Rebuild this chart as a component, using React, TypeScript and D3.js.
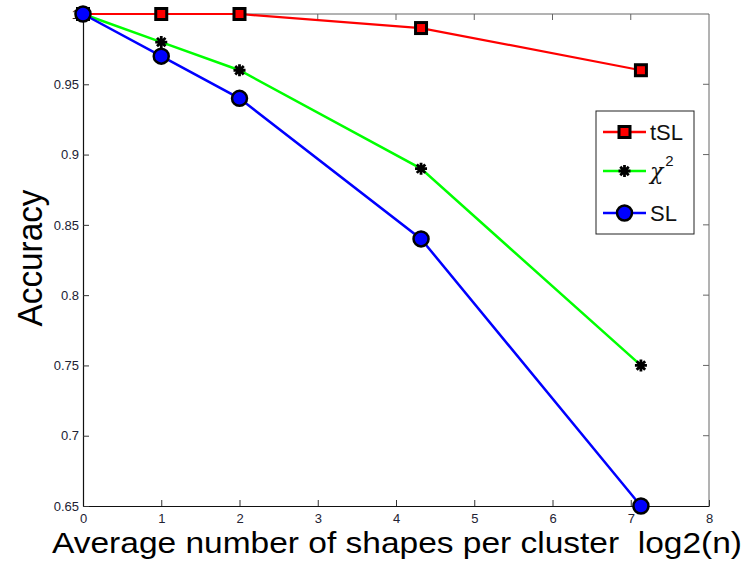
import React, { useEffect, useRef } from 'react';
import * as d3 from 'd3';

const xValues = [0, 1, 2, 4.32, 7.13];
const tslValues = [1, 1, 1, 0.99, 0.96];
const chiValues = [1, 0.98, 0.96, 0.89, 0.75];
const slValues = [1, 0.97, 0.94, 0.84, 0.65];
const xTicks = [0, 1, 2, 3, 4, 5, 6, 7, 8];
const yTicks = [0.65, 0.7, 0.75, 0.8, 0.85, 0.9, 0.95, 1];

const seriesList = [
  { name: 'tSL', values: tslValues, color: '#ff0000', marker: 'square', width: 2.2 },
  { name: 'chi', values: chiValues, color: '#00ff00', marker: 'star', width: 2.5 },
  { name: 'SL', values: slValues, color: '#0000ff', marker: 'circle', width: 2.5 },
];

const font = 'Liberation Sans, Arial, sans-serif';

const App = () => {
  const ref = useRef<SVGSVGElement>(null);

  useEffect(() => {
    const svg = d3.select(ref.current);
    svg.selectAll('*').remove();

    const left = 83, right = 709, top = 14, bottom = 506;
    const x = d3.scaleLinear().domain([0, 8]).range([left, right]);
    const y = d3.scaleLinear().domain([0.65, 1]).range([bottom, top]);

    // axes box
    svg.append('line').attr('x1', left).attr('x2', right).attr('y1', top).attr('y2', top)
      .attr('stroke', '#666').attr('stroke-width', 1);
    svg.append('line').attr('x1', right).attr('x2', right).attr('y1', top).attr('y2', bottom)
      .attr('stroke', '#666').attr('stroke-width', 1);

    const tickSize = 6;
    const gx = svg.append('g').attr('transform', `translate(0,${bottom})`)
      .call(d3.axisBottom(x).tickValues(xTicks).tickSizeInner(-tickSize).tickSizeOuter(0).tickPadding(8).tickFormat(d3.format('d')));
    gx.select('.domain').attr('stroke', '#111').attr('stroke-width', 1.2);
    gx.selectAll('.tick line').attr('stroke', '#333');
    gx.selectAll('text').attr('font-family', font).attr('font-size', 13).attr('fill', '#223');

    // top ticks
    svg.append('g').selectAll('line').data(xTicks.slice(1, -1)).join('line')
      .attr('x1', d => x(d)).attr('x2', d => x(d)).attr('y1', top).attr('y2', top + tickSize)
      .attr('stroke', '#666');

    const gy = svg.append('g').attr('transform', `translate(${left},0)`)
      .call(d3.axisLeft(y).tickValues(yTicks).tickSizeInner(-tickSize).tickSizeOuter(0).tickPadding(4)
        .tickFormat(d => String(d)));
    gy.select('.domain').attr('stroke', '#111').attr('stroke-width', 1.2);
    gy.selectAll('.tick line').attr('stroke', '#333');
    gy.selectAll('text').attr('font-family', font).attr('font-size', 13).attr('fill', '#223');

    // right ticks
    svg.append('g').selectAll('line').data(yTicks.slice(1, -1)).join('line')
      .attr('x1', right - tickSize).attr('x2', right).attr('y1', d => y(d)).attr('y2', d => y(d))
      .attr('stroke', '#666');

    const line = d3.line<number>().x((d, i) => x(xValues[i])).y(d => y(d));

    const drawMarker = (g: any, kind: string, color: string, cx: number, cy: number) => {
      if (kind === 'square') {
        g.append('rect').attr('x', cx - 5.5).attr('y', cy - 5.5).attr('width', 11).attr('height', 11)
          .attr('fill', color).attr('stroke', '#000').attr('stroke-width', 3);
      } else if (kind === 'circle') {
        g.append('circle').attr('cx', cx).attr('cy', cy).attr('r', 7.5)
          .attr('fill', color).attr('stroke', '#000').attr('stroke-width', 2.5);
      } else {
        const r = 6;
        const p = d3.path();
        [0, 45, 90, 135].forEach(a => {
          const rad = (a * Math.PI) / 180;
          p.moveTo(cx - r * Math.cos(rad), cy - r * Math.sin(rad));
          p.lineTo(cx + r * Math.cos(rad), cy + r * Math.sin(rad));
        });
        g.append('path').attr('d', p.toString()).attr('stroke', '#000').attr('stroke-width', 2.8).attr('fill', 'none');
      }
    };

    seriesList.forEach(s => {
      svg.append('path').datum(s.values).attr('fill', 'none').attr('stroke', s.color)
        .attr('stroke-width', s.width).attr('d', line);
    });
    seriesList.forEach(s => {
      const g = svg.append('g');
      s.values.forEach((v, i) => drawMarker(g, s.marker, s.color, x(xValues[i]), y(v)));
    });

    // legend
    const lg = svg.append('g');
    lg.append('rect').attr('x', 596).attr('y', 111).attr('width', 98).attr('height', 123)
      .attr('fill', '#fff').attr('stroke', '#222').attr('stroke-width', 1);
    const legendY = [132, 171, 213];
    seriesList.forEach((s, i) => {
      const ly = legendY[i];
      lg.append('line').attr('x1', 603).attr('x2', 646).attr('y1', ly).attr('y2', ly)
        .attr('stroke', s.color).attr('stroke-width', 2.5);
      drawMarker(lg, s.marker, s.color, 624.5, ly);
      const t = lg.append('text').attr('x', 650).attr('y', ly + 8).attr('font-family', font)
        .attr('font-size', 22).attr('fill', '#111');
      if (s.name === 'chi') {
        t.append('tspan').text('χ').attr('font-family', 'DejaVu Serif, serif').attr('font-style', 'italic');
        t.append('tspan').text('2').attr('font-size', 15).attr('dy', -13).attr('dx', 2);
      } else {
        t.text(s.name);
      }
    });

    // axis labels
    svg.append('text').attr('x', 52).attr('y', 553)
      .attr('font-family', font).attr('font-size', 30).attr('fill', '#000')
      .attr('textLength', 690).attr('lengthAdjust', 'spacingAndGlyphs')
      .attr('xml:space', 'preserve').style('white-space', 'pre')
      .text('Average number of shapes per cluster  log2(n)');
    svg.append('text').attr('transform', 'translate(42,258) rotate(-90)').attr('text-anchor', 'middle')
      .attr('font-family', font).attr('font-size', 35).attr('fill', '#000')
      .attr('textLength', 137).attr('lengthAdjust', 'spacingAndGlyphs')
      .text('Accuracy');
  }, []);

  return <svg ref={ref} width={747} height={569} style={{ position: 'absolute', left: 0, top: 0, background: '#fff' }} />;
};

export default App;
